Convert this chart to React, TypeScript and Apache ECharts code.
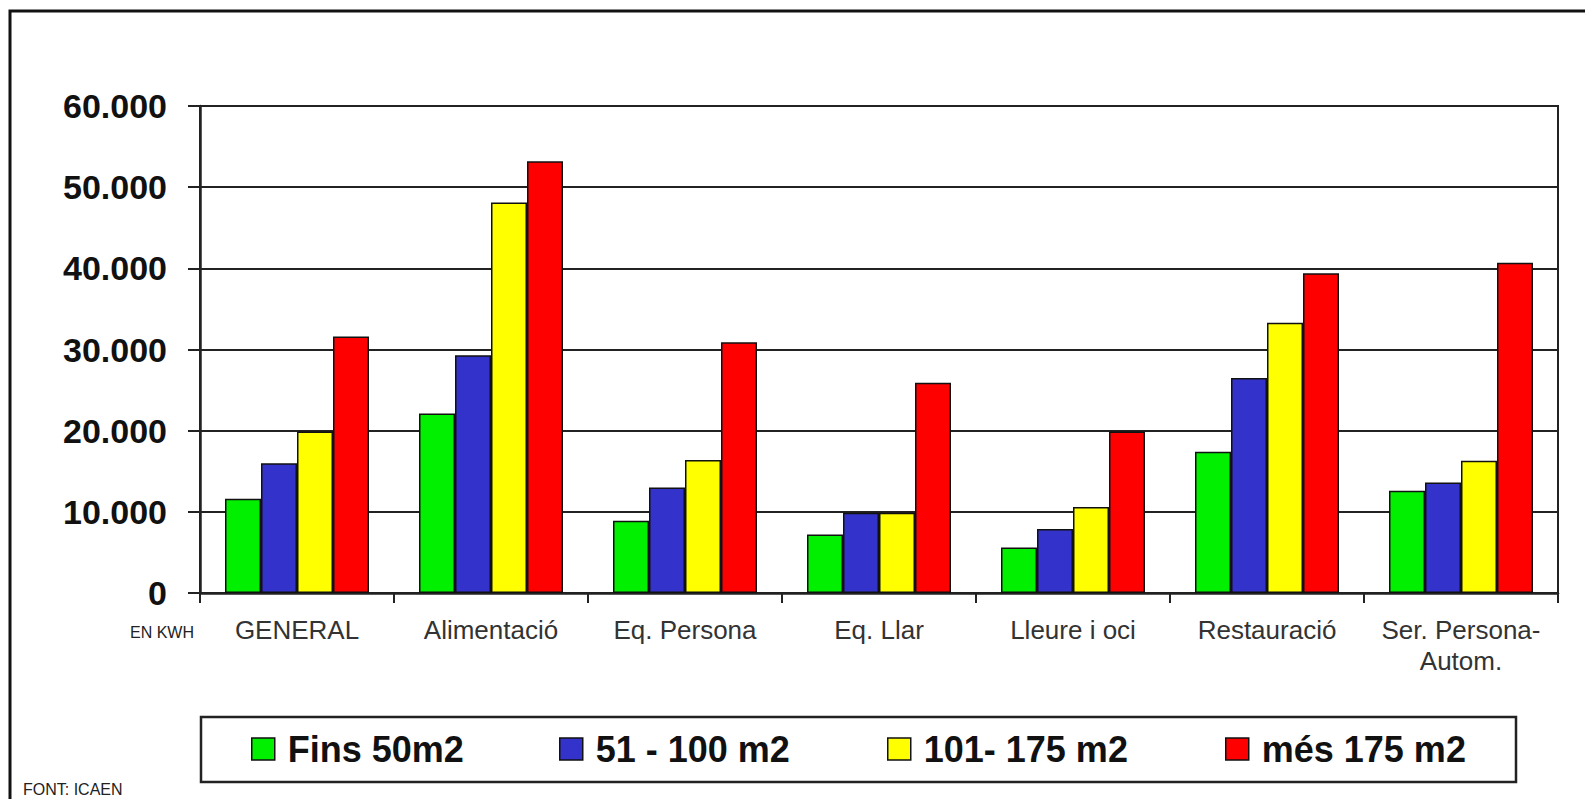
import React, { useEffect, useRef } from "react";
import * as echarts from "echarts";

const categories = [
  "GENERAL",
  "Alimentació",
  "Eq. Persona",
  "Eq. Llar",
  "Lleure i oci",
  "Restauració",
  "Ser. Persona-\nAutom.",
];

const seriesNames = ["Fins 50m2", "51 - 100 m2", "101- 175 m2", "més 175 m2"];
const seriesColors = ["#00f000", "#3333cc", "#ffff00", "#ff0000"];

const fins50 = [11600, 22100, 8900, 7200, 5600, 17400, 12600];
const de51a100 = [16000, 29300, 13000, 9900, 7900, 26500, 13600];
const de101a175 = [19900, 48100, 16400, 9900, 10600, 33300, 16300];
const mes175 = [31600, 53200, 30900, 25900, 19900, 39400, 40700];

const seriesValues = [fins50, de51a100, de101a175, mes175];

const yTicks = [0, 10000, 20000, 30000, 40000, 50000, 60000];
const legendLefts = [251, 559, 887, 1225];

const FONT = '"Liberation Sans", Arial, sans-serif';

function fmt(v: number): string {
  if (v === 0) return "0";
  return Math.round(v / 1000) + ".000";
}

export default function App() {
  const ref = useRef<HTMLDivElement>(null);

  useEffect(() => {
    if (!ref.current) return;
    const chart = echarts.init(ref.current, undefined, { renderer: "svg" });

    const option: any = {
      animation: false,
      backgroundColor: "#ffffff",
      grid: {
        left: 200,
        top: 106,
        right: 27,
        bottom: 206,
        show: true,
        borderColor: "#222",
        borderWidth: 2,
        backgroundColor: "transparent",
      },
      xAxis: {
        type: "category",
        data: categories,
        boundaryGap: true,
        axisLine: { show: true, lineStyle: { color: "#222", width: 2.5 } },
        axisTick: {
          show: true,
          alignWithLabel: false,
          length: 10,
          lineStyle: { color: "#222", width: 2 },
        },
        axisLabel: {
          fontSize: 26,
          fontFamily: FONT,
          color: "#333",
          margin: 21,
          lineHeight: 31,
          interval: 0,
        },
      },
      yAxis: {
        type: "value",
        min: yTicks[0],
        max: yTicks[yTicks.length - 1],
        interval: 10000,
        axisLine: { show: true, lineStyle: { color: "#222", width: 2.5 } },
        axisTick: {
          show: true,
          length: 12,
          lineStyle: { color: "#222", width: 2 },
        },
        splitLine: { show: true, lineStyle: { color: "#222", width: 2 } },
        axisLabel: {
          fontSize: 34,
          fontWeight: "bold",
          fontFamily: FONT,
          color: "#111",
          margin: 33,
          formatter: (v: number) => fmt(v),
        },
      },
      legend: seriesNames.map((name, i) => ({
        data: [name],
        left: legendLefts[i],
        top: 731,
        padding: 0,
        itemWidth: 23,
        itemHeight: 22,
        icon: "rect",
        itemStyle: { borderColor: "#111", borderWidth: 1.5 },
        textStyle: {
          fontSize: 36,
          fontWeight: "bold",
          fontFamily: FONT,
          color: "#111",
          padding: [0, 0, 0, 8],
        },
      })),
      series: seriesNames.map((name, i) => ({
        name,
        type: "bar",
        data: seriesValues[i],
        barWidth: 36,
        barGap: "0%",
        itemStyle: {
          color: seriesColors[i],
          borderColor: "#111",
          borderWidth: 1.5,
        },
      })),
      graphic: [
        {
          type: "rect",
          shape: { x: 10, y: 11, width: 1700, height: 900 },
          style: { fill: "none", stroke: "#111", lineWidth: 3 },
          silent: true,
        },
        {
          type: "rect",
          shape: { x: 201, y: 717, width: 1315, height: 65 },
          style: { fill: "none", stroke: "#222", lineWidth: 2.5 },
          silent: true,
        },
        {
          type: "text",
          x: 130,
          y: 632,
          style: {
            text: "EN KWH",
            fontSize: 16,
            fontFamily: FONT,
            fill: "#222",
            verticalAlign: "middle",
            align: "left",
          },
        },
        {
          type: "text",
          x: 23,
          y: 789,
          style: {
            text: "FONT: ICAEN",
            fontSize: 16,
            fontFamily: FONT,
            fill: "#222",
            verticalAlign: "middle",
            align: "left",
          },
        },
      ],
    };

    chart.setOption(option);
    return () => {
      chart.dispose();
    };
  }, []);

  return (
    <div
      ref={ref}
      style={{ position: "fixed", left: 0, top: 0, width: 1585, height: 799 }}
    />
  );
}
